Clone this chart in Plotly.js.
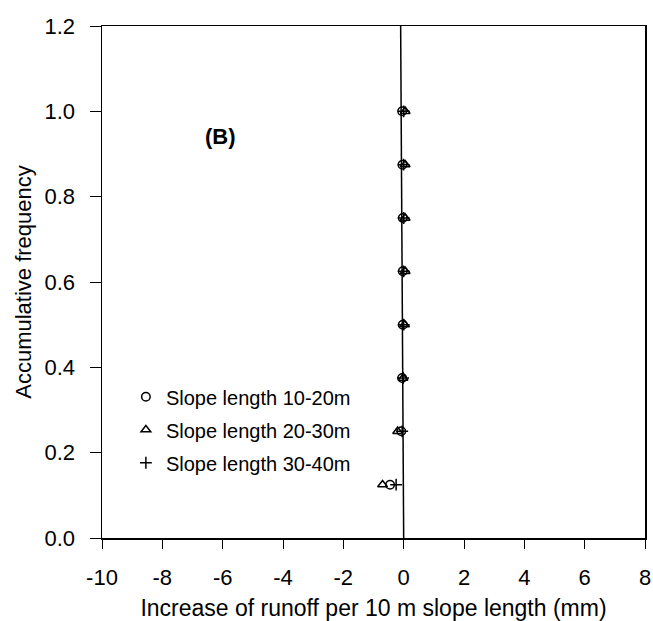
<!DOCTYPE html>
<html><head><meta charset="utf-8">
<script src="https://cdn.plot.ly/plotly-3.0.1.min.js"></script>
<style>body{margin:0;background:#fff}#chart{width:653px;height:621px}</style>
</head><body><div id="chart"></div>
<script>
const freq = [0.125, 0.25, 0.375, 0.5, 0.625, 0.75, 0.875, 1.0];
const x1020 = [-0.45, -0.08, -0.05, -0.03, -0.03, -0.03, -0.04, -0.05];
const x2030 = [-0.70, -0.20, -0.02, 0.03, 0.05, 0.05, 0.05, 0.05];
const x3040 = [-0.25, -0.05, -0.02, 0.0, 0.0, 0.0, 0.0, 0.0];
const refLineX = [0, -0.1];
const refLineY = [0, 1.2];
const xTickVals = [-10, -8, -6, -4, -2, 0, 2, 4, 6, 8];
const xTickText = ["-10", "-8", "-6", "-4", "-2", "0", "2", "4", "6", "8"];
const yTickVals = [0, 0.2, 0.4, 0.6, 0.8, 1.0, 1.2];
const yTickText = ["0.0", "0.2", "0.4", "0.6", "0.8", "1.0", "1.2"];
const names = ["Slope length 10-20m", "Slope length 20-30m", "Slope length 30-40m"];

const F = "Liberation Sans, Arial, sans-serif";
const mk = (sym) => ({symbol: sym, size: 8.5, color: "#000", line: {color: "#000", width: 1.5}});
const traces = [
  {x: refLineX, y: refLineY, mode: "lines", line: {color: "#000", width: 1.5}, showlegend: false, hoverinfo: "skip"},
  {x: x1020, y: freq, mode: "markers", name: names[0], legendgroup: "a", marker: mk("circle-open")},
  {x: x2030, y: freq, mode: "markers", name: names[1], legendgroup: "b", marker: mk("triangle-up-open")},
  {x: x3040, y: freq, mode: "markers", name: names[2], legendgroup: "c", marker: mk("cross-thin-open")}
];
const layout = {
  width: 653, height: 621,
  margin: {l: 102, r: 8, t: 26, b: 83},
  paper_bgcolor: "#fff", plot_bgcolor: "#fff",
  font: {family: F, size: 22, color: "#000"},
  showlegend: true,
  legend: {x: 0.044, y: 0.314, xanchor: "left", yanchor: "top", bgcolor: "rgba(0,0,0,0)",
           font: {family: F, size: 20, color: "#000"}, traceorder: "grouped", tracegroupgap: 4, itemwidth: 30},
  xaxis: {range: [-10, 8], tickvals: xTickVals, ticktext: xTickText, ticks: "outside", ticklen: 9,
          tickcolor: "#000", showline: true, linecolor: "#000", linewidth: 1.5, mirror: true,
          showgrid: false, zeroline: false, ticklabelstandoff: 10,
          tickfont: {family: F, size: 22, color: "#000"},
          title: {text: "Increase of runoff per 10 m slope length (mm)", font: {family: F, size: 23}, standoff: 17}},
  yaxis: {range: [0, 1.2], tickvals: yTickVals, ticktext: yTickText, ticks: "outside", ticklen: 11,
          tickcolor: "#000", showline: true, linecolor: "#000", linewidth: 1.5, mirror: true,
          showgrid: false, zeroline: false, ticklabelstandoff: 10,
          tickfont: {family: F, size: 22, color: "#000"},
          title: {text: "Accumulative frequency", font: {family: F, size: 22}, standoff: 7}},
  annotations: [{x: -6.06, y: 0.94, xref: "x", yref: "y", text: "<b>(B)</b>", showarrow: false,
                 font: {family: F, size: 22, color: "#000"}}]
};
Plotly.newPlot("chart", traces, layout, {displayModeBar: false, staticPlot: true});
</script></body></html>
